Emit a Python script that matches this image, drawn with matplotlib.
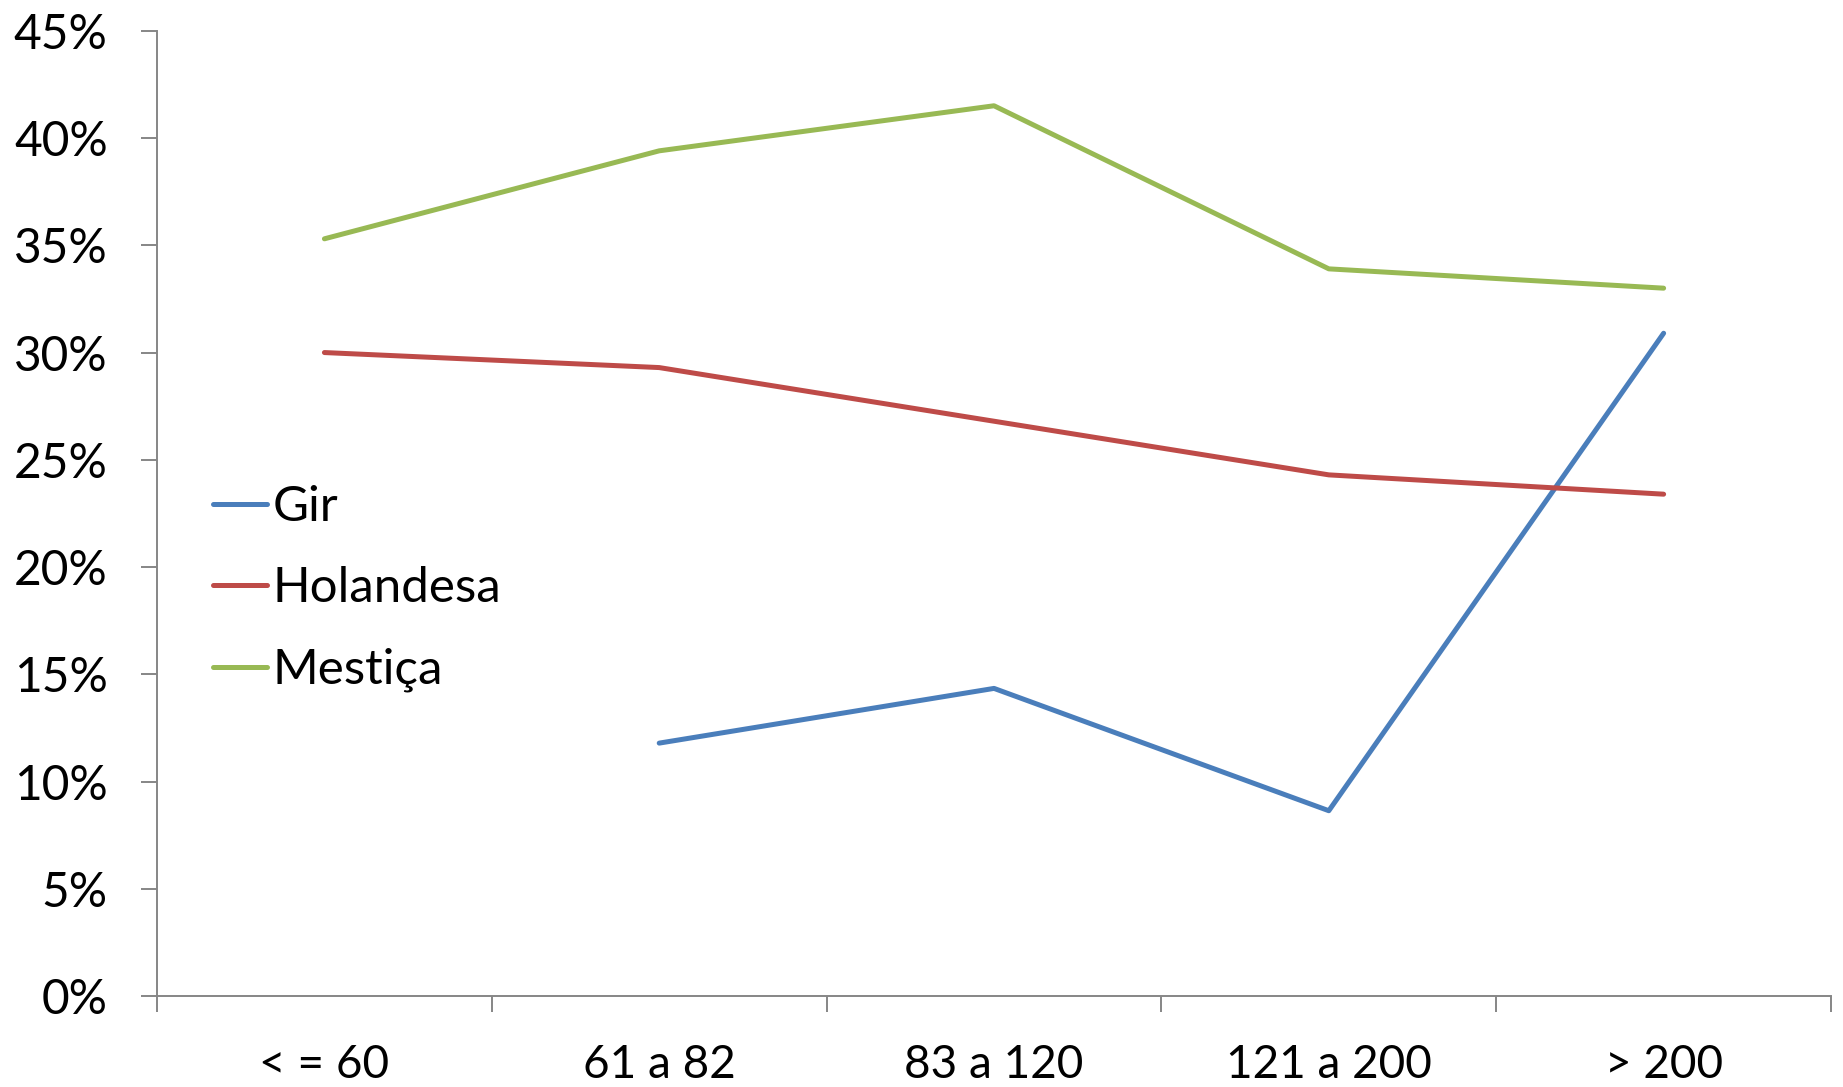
import matplotlib

matplotlib.use("Agg")

import matplotlib.pyplot as plt
import numpy as np
from matplotlib.ticker import FixedLocator, FuncFormatter

plt.rcParams["font.family"] = ["Lato", "DejaVu Sans"]

categories = ["< = 60", "61 a 82", "83 a 120", "121 a 200", "> 200"]
gir = [np.nan, 11.8, 14.35, 8.65, 30.9]
holandesa = [30.0, 29.3, 26.8, 24.3, 23.4]
mestica = [35.3, 39.4, 41.5, 33.9, 33.0]

series = [
    ("Gir", gir, "#4A7EBB"),
    ("Holandesa", holandesa, "#BE4B48"),
    ("Mestiça", mestica, "#98B954"),
]

fig = plt.figure(figsize=(18.43, 10.87), dpi=100)
ax = fig.add_axes([0.0852, 0.0834, 0.9083, 0.8884])

x = np.arange(len(categories))
for name, values, color in series:
    ax.plot(x, values, color=color, linewidth=3.6, solid_capstyle="round",
            solid_joinstyle="round", label=name)

axis_color = "#868686"
ax.set_xlim(-0.5, len(categories) - 0.5)
ax.set_ylim(0, 45)
ax.set_yticks(np.arange(0, 46, 5))
ax.yaxis.set_major_formatter(FuncFormatter(lambda v, _: f"{v:.0f}%"))

ax.set_xticks(x)
ax.set_xticklabels(categories)
ax.xaxis.set_minor_locator(FixedLocator(np.arange(-0.5, len(categories), 1.0)))

for side in ("top", "right"):
    ax.spines[side].set_visible(False)
for side in ("left", "bottom"):
    ax.spines[side].set_color(axis_color)
    ax.spines[side].set_linewidth(1.4)

ax.tick_params(axis="y", which="major", length=11.5, width=1.4, color=axis_color,
               labelsize=34.5, pad=24)
ax.tick_params(axis="x", which="major", length=0, labelsize=33, pad=34)
ax.tick_params(axis="x", which="minor", length=11.5, width=1.4, color=axis_color)

ax.legend(loc="upper left", bbox_to_anchor=(0.0216, 0.55), frameon=False, fontsize=35.5,
          handlelength=1.09, handletextpad=0.12, labelspacing=0.76, borderaxespad=0)

fig.savefig("out.png", dpi=100)
